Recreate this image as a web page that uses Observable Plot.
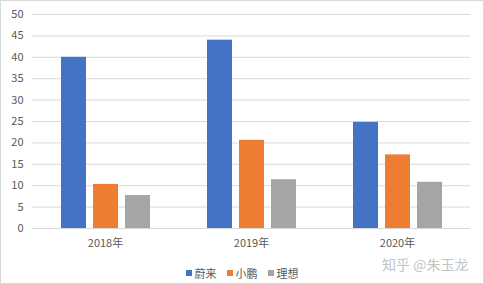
<!DOCTYPE html>
<html><head><meta charset="utf-8">
<script src="https://cdn.jsdelivr.net/npm/d3@7"></script>
<script src="https://cdn.jsdelivr.net/npm/@observablehq/plot@0.6"></script>
<style>
html,body{margin:0;padding:0;background:#fff;}
#wrap{position:relative;width:484px;height:284px;box-sizing:border-box;border:1px solid #d9d9d9;overflow:hidden;font-family:"Noto Sans CJK SC","Noto Sans",sans-serif;}
#chart{position:absolute;left:0;top:0;}
#legend{position:absolute;left:0;width:482px;top:264px;height:16px;display:flex;justify-content:center;align-items:center;font-size:11px;color:#595959;}
#legend .item{display:flex;align-items:center;margin:0 5px;}
#legend .sw{width:6px;height:6px;margin-right:3px;}
#mark{position:absolute;left:381px;top:253px;font-size:14px;color:#c4c4c4;text-shadow:0 0 1px #fff;white-space:nowrap;}
</style></head>
<body>
<div id="wrap"><div id="chart"></div><div id="legend"></div><div id="mark">知乎 @朱玉龙</div></div>
<script>
const years = ["2018年", "2019年", "2020年"];
const brands = ["蔚来", "小鹏", "理想"];
const nio = [40, 44, 24.8];
const xpeng = [10.3, 20.6, 17.2];
const li = [7.7, 11.4, 10.8];
const yTicks = [0, 5, 10, 15, 20, 25, 30, 35, 40, 45, 50];
const colors = ["#4472C4", "#ED7D31", "#A5A5A5"];

const series = [nio, xpeng, li];
const data = [];
years.forEach((yr, i) => brands.forEach((b, j) => data.push({year: yr, brand: b, value: series[j][i]})));

const chart = Plot.plot({
  width: 482,
  height: 256,
  marginTop: 13,
  marginLeft: 30,
  marginRight: 13,
  marginBottom: 29,
  style: {fontFamily: '"Noto Sans CJK SC","Noto Sans",sans-serif', fontSize: "11px", color: "#595959", background: "transparent", overflow: "visible"},
  fx: {domain: years, paddingInner: 0.384, paddingOuter: 0.192, label: null, tickSize: 0, tickPadding: 11, axis: "bottom"},
  x: {domain: brands, paddingInner: 0.23, paddingOuter: 0, axis: null},
  y: {domain: [0, 50], ticks: yTicks, label: null, tickSize: 0, tickPadding: 37},
  color: {domain: brands, range: colors},
  marks: [
    Plot.ruleY(yTicks, {stroke: "#d9d9d9", strokeWidth: 1, insetLeft: -28.1, insetRight: -28.1}),
    Plot.barY(data, {fx: "year", x: "brand", y: "value", fill: "brand"})
  ]
});
document.getElementById("chart").appendChild(chart);

const lg = document.getElementById("legend");
brands.forEach((b, i) => {
  const it = document.createElement("div");
  it.className = "item";
  it.innerHTML = `<div class="sw" style="background:${colors[i]}"></div><span>${b}</span>`;
  lg.appendChild(it);
});
</script>
</body></html>
